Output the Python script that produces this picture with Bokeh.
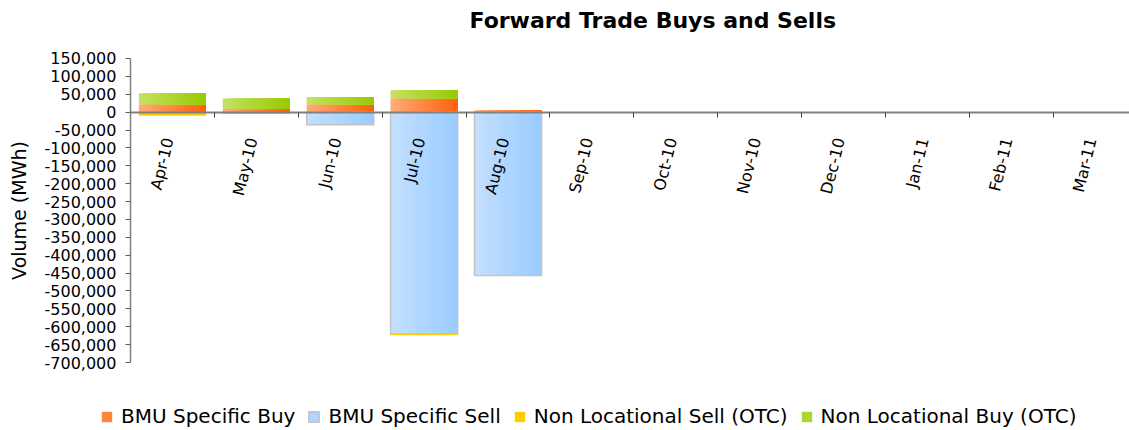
import numpy as np
from bokeh.plotting import figure
from bokeh.models import (Range1d, LinearAxis, FixedTicker, NumeralTickFormatter,
                          Legend, LegendItem)
from bokeh.core.properties import value
from bokeh.embed import file_html
from bokeh.resources import INLINE

# ---------------- data ----------------
months = ["Apr-10", "May-10", "Jun-10", "Jul-10", "Aug-10", "Sep-10",
          "Oct-10", "Nov-10", "Dec-10", "Jan-11", "Feb-11", "Mar-11"]
bmu_buy = [22000, 10000, 22000, 39000, 5000, 0, 0, 0, 0, 0, 0, 0]
bmu_sell = [0, 0, -35000, -620000, -457000, 0, 0, 0, 0, 0, 0, 0]
nl_sell = [-10000, -5000, 0, -4000, 0, 0, 0, 0, 0, 0, 0, 0]
nl_buy = [31000, 28000, 20000, 22000, 0, 0, 0, 0, 0, 0, 0, 0]
y_ticks = list(range(-700000, 150001, 50000))

FONT = "DejaVu Sans"

idx = np.arange(len(months), dtype=float)
buy = np.array(bmu_buy, dtype=float)
sell = np.array(bmu_sell, dtype=float)
nls = np.array(nl_sell, dtype=float)
nlb = np.array(nl_buy, dtype=float)

# the frame covers the page below the title; axes sit at fixed positions inside it
p = figure(width=1129, height=430, x_range=Range1d(-1.549, 11.907),
           y_range=Range1d(-890000, 200300), output_backend="svg",
           toolbar_location=None, x_axis_type=None, y_axis_type=None,
           min_border_left=0, min_border_right=0, min_border_top=40,
           min_border_bottom=0, outline_line_color=None)
p.xgrid.visible = False
p.ygrid.visible = False

# title
p.title.text = "Forward Trade Buys and Sells"
p.title.text_font = FONT
p.title.text_font_size = "22px"
p.title.text_font_style = "bold"
p.title.text_color = "black"
p.title.align = "left"
p.title.offset = 469
p.title.vertical_align = "top"
p.title.standoff = 12

# gradient bars made of overlapping strips
BW = 0.8
N = 16


def lerp(c1, c2, t):
    return "#%02x%02x%02x" % tuple(int(round(a + (b - a) * t)) for a, b in zip(c1, c2))


def grad_bars(bottom, top, c_left, c_right):
    rends = []
    for k in range(N):
        left = idx + (1 - BW) / 2 + k * BW / N
        right = idx + (1 + BW) / 2
        col = lerp(c_left, c_right, (k + 0.5) / N)
        r = p.quad(left=left, right=right, bottom=bottom, top=top,
                   fill_color=col, line_color=None)
        rends.append(r)
    return rends

orange = grad_bars(np.zeros_like(buy), buy, (255, 172, 122), (255, 96, 8))
green = grad_bars(buy, buy + nlb, (196, 226, 98), (150, 202, 0))
blue = grad_bars(sell, np.zeros_like(sell), (196, 224, 255), (152, 203, 255))
m = sell != 0
blue_outline = p.quad(left=idx[m] + (1 - BW) / 2, right=idx[m] + (1 + BW) / 2,
                      bottom=sell[m], top=np.zeros(m.sum()),
                      fill_color=None, line_color="#c4c4c4", line_width=1.5)
yellow = p.quad(left=idx + (1 - BW) / 2, right=idx + (1 + BW) / 2,
                bottom=sell + nls, top=sell, fill_color="#ffcc00", line_color=None)

# y axis at x = 0, line limited to the tick range
ya = LinearAxis(ticker=FixedTicker(ticks=y_ticks),
                formatter=NumeralTickFormatter(format="0,0"),
                fixed_location=0, bounds=(min(y_ticks), max(y_ticks)),
                major_label_text_font=FONT, major_label_text_font_size="16px",
                major_label_text_color="black",
                axis_line_color="#808080", axis_line_width=1.5,
                major_tick_line_color="#606060", major_tick_out=5, major_tick_in=0,
                minor_tick_line_color=None, major_label_standoff=9,
                axis_label="Volume (MWh)", axis_label_text_font=FONT,
                axis_label_text_font_size="19px", axis_label_text_font_style="normal",
                axis_label_text_color="black", axis_label_standoff=12)
p.add_layout(ya, "left")

# x axis on the zero line: ticks at category boundaries
bounds = [float(i) for i in range(1, len(months))]
x_axis = LinearAxis(ticker=FixedTicker(ticks=[], minor_ticks=bounds),
                    fixed_location=0, bounds=(0, len(months)),
                    axis_line_color="#808080", axis_line_width=2,
                    major_tick_line_color=None,
                    minor_tick_line_color="#404040", minor_tick_out=5, minor_tick_in=0,
                    minor_tick_line_width=1)
p.add_layout(x_axis, "below")

# category labels, rotated, hanging under the zero line
p.text(x=idx + 0.5, y=np.zeros(len(months)), text=months, angle=1.33,
       text_align="right", text_baseline="middle", x_offset=-4, y_offset=26,
       text_font=value(FONT), text_font_size="16px", text_color="black")

# legend (inside the frame, under the plot area)
legend = Legend(items=[
    LegendItem(label="BMU Specific Buy", renderers=[orange[N // 2]]),
    LegendItem(label="BMU Specific Sell", renderers=[blue[N // 2], blue_outline]),
    LegendItem(label="Non Locational Sell (OTC)", renderers=[yellow]),
    LegendItem(label="Non Locational Buy (OTC)", renderers=[green[N // 2]]),
], orientation="horizontal", location=(100, 2),
    label_text_font=FONT, label_text_font_size="20px", label_text_color="black",
    glyph_width=13, glyph_height=13, spacing=12, label_standoff=8,
    padding=0, margin=0, border_line_color=None, background_fill_alpha=0)
p.add_layout(legend, "center")

open("out.html", "w").write(file_html(p, INLINE))
